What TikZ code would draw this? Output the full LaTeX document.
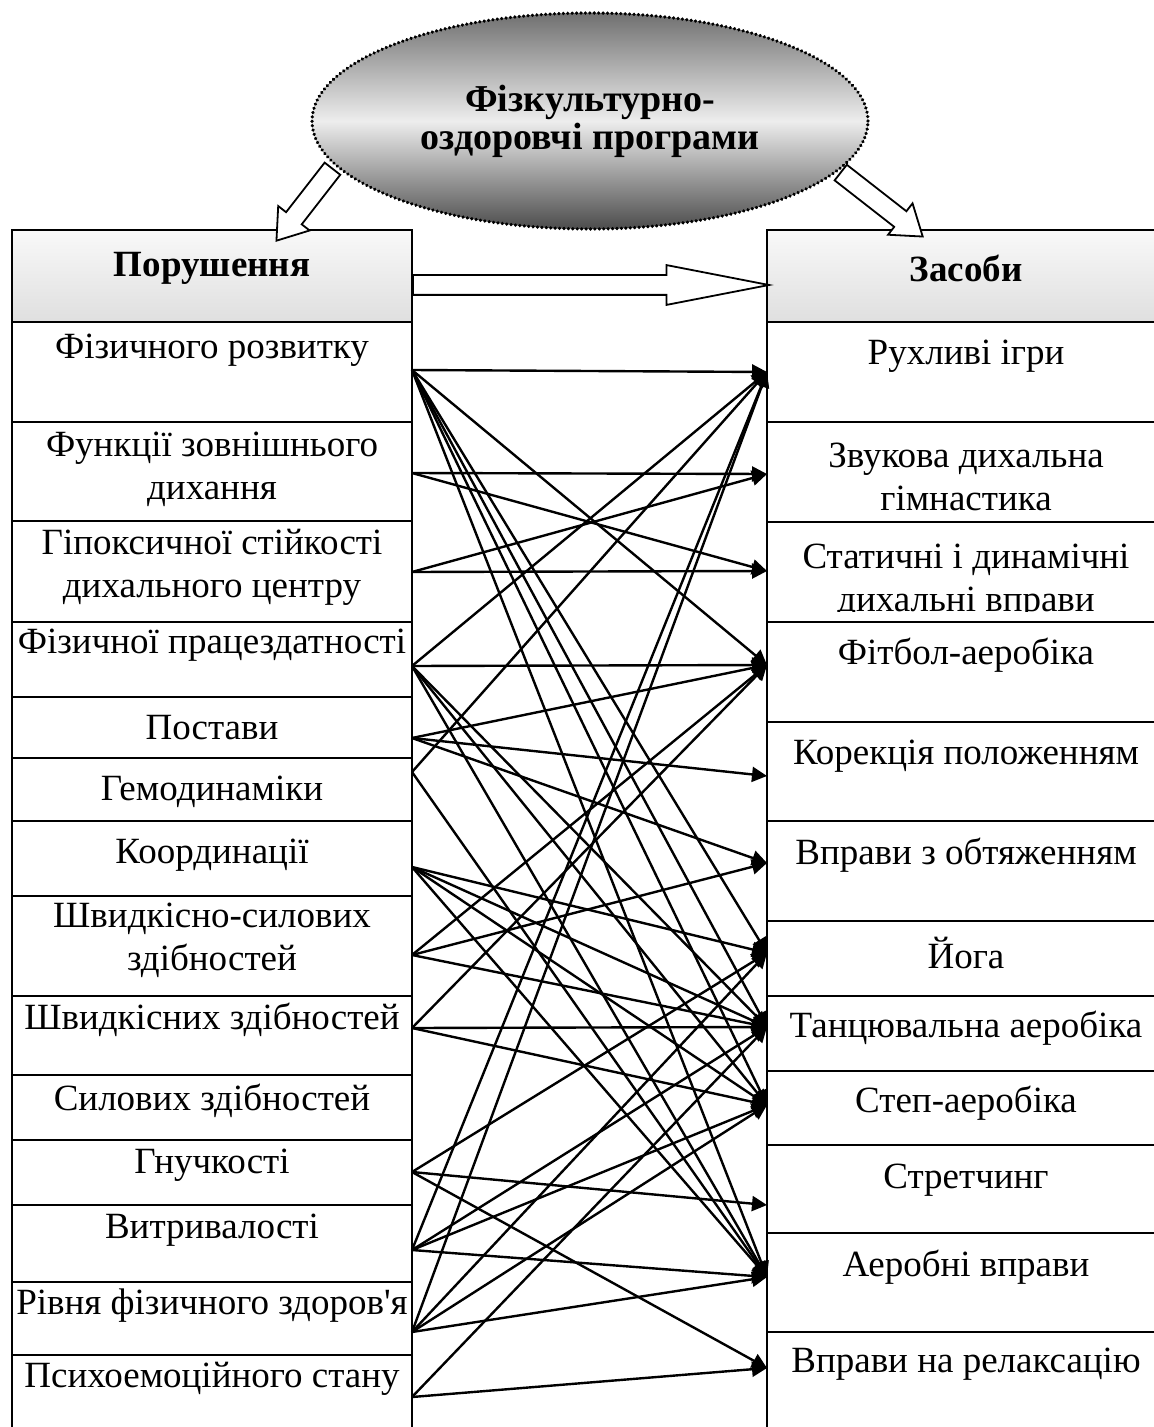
\documentclass[tikz,border=0pt]{standalone}
\usepackage{fontspec}
\setmainfont{Liberation Serif}
\usetikzlibrary{arrows.meta,shapes.geometric,shapes.arrows,calc}

% hollow block arrow from #1 to #2
\newcommand{\hollowarrow}[3]{%
  \path let \p1=($(#2)-(#1)$), \n1={veclen(\x1,\y1)}, \n2={atan2(\y1,\x1)} in
    node[fatarrow, #3, minimum height=\n1, rotate=\n2, anchor=tail] at (#1) {};}

\begin{document}
\begin{tikzpicture}[x=0.5pt,y=-0.5pt,
    txt/.style={font=\fontsize{18.5}{21.5}\selectfont, align=center, inner sep=0pt},
    head/.style={font=\fontsize{18.5}{21.5}\selectfont\bfseries, inner sep=0pt},
    hdrbox/.style={draw, line width=1pt, top color=gray!5, bottom color=gray!25},
    cell/.style={draw, line width=1pt},
    link/.style={line width=1.2pt, -{Triangle[length=7.5pt,width=7.5pt]}},
    fatarrow/.style={single arrow, draw, fill=white, line width=0.9pt,
                     inner xsep=0pt, inner ysep=4.5pt, single arrow head extend=5pt},
    oval/.style={ellipse, minimum width=278pt, minimum height=108pt,
                 top color=black!56, bottom color=black!70, middle color=black!7,
                 draw, line width=1.8pt, dash pattern=on 0.01pt off 2.2pt, line cap=round,
                 align=center, font=\fontsize{19}{19}\selectfont\bfseries}]

  \useasboundingbox (0,0) rectangle (1154,1427);
  \clip (0,0) rectangle (1154,1427);

  % headers
  \draw[hdrbox] (12,230) rectangle (412,322);
  \draw[hdrbox] (767,230) rectangle (1166,322);
  \node[head] (lh) at (212,268) {Порушення};
  \node[head] (rh) at (966,268) {Засоби};

  % left column
  \foreach \ya/\yb/\yt/\yc/\txt [count=\i] in {
      322/422/350/370/{Фізичного розвитку},
      422/521/469/473/{Функції зовнішнього\\дихання},
      521/622/567/572/{Гіпоксичної стійкості\\дихального центру},
      622/697/645/666/{Фізичної працездатності},
      697/758/728/738/{Постави},
      758/821/792/772/{Гемодинаміки},
      821/896/855/867/{Координації},
      896/996/940/955/{Швидкісно-силових\\здібностей},
      996/1075/1020/1028/{Швидкісних здібностей},
      1075/1140/1101/1105/{Силових здібностей},
      1140/1205/1165/1172/{Гнучкості},
      1205/1282/1230/1250/{Витривалості},
      1282/1355/1306/1332/{Рівня фізичного здоров\textquotesingle я},
      1355/1440/1379/1397/{Психоемоційного стану}}
  {
    \draw[cell] (12,\ya) rectangle (412,\yb);
    \node[txt] (l\i) at (212,\yt) {\txt};
    \coordinate (p\i) at (412,\yc);
  }

  % right column
  \foreach \ya/\yb/\yt/\yc/\txt [count=\i] in {
      322/422/356/372/{Рухливі ігри},
      422/522/477/474/{Звукова дихальна\\гімнастика},
      522/622/577/571/{},
      622/722/655/665/{Фітбол-аеробіка},
      722/821/756/776/{Корекція положенням},
      821/921/855/863/{Вправи з обтяженням},
      921/996/953/953/{Йога},
      996/1071/1028/1027/{Танцювальна аеробіка},
      1071/1145/1103/1105/{Степ-аеробіка},
      1145/1233/1180/1205/{Стретчинг},
      1233/1332/1267/1277/{Аеробні вправи},
      1332/1440/1364/1368/{Вправи на релаксацію}}
  {
    \draw[cell] (767,\ya) rectangle (1166,\yb);
    \node[txt] (r\i) at (966,\yt) {\txt};
    \coordinate (z\i) at (767,\yc);
  }
  \begin{scope}
    \clip (767,522) rectangle (1166,611);
    \node[txt] (r3) at (966,582) {Статичні і динамічні\\дихальні вправи};
  \end{scope}

  % links
  \foreach \a/\b in {1/1,1/4,1/7,1/8,1/9,1/11,
                     2/2,2/3, 3/3,3/2,
                     4/4,4/1,4/8,4/9,4/11,
                     5/4,5/5,5/6, 6/1,6/11,
                     7/7,7/8,7/9,7/11,
                     8/4,8/6,8/8, 9/8,9/4,9/9,
                     11/7,11/10,11/12,
                     12/1,12/8,12/9,12/11,
                     13/1,13/7,13/9,13/11,
                     14/8,14/12}
    \draw[link] (p\a) -- (z\b);

  % block arrows
  \coordinate (ha0) at (412,285);
  \coordinate (ha1) at (768,285);
  \coordinate (la0) at (333,168);
  \coordinate (la1) at (277,240);
  \coordinate (ra0) at (840,172);
  \coordinate (ra1) at (922,236);
  \hollowarrow{ha0}{ha1}{single arrow tip angle=22}
  \hollowarrow{la0}{la1}{single arrow tip angle=70}
  \hollowarrow{ra0}{ra1}{single arrow tip angle=70}

  \node[oval] (prog) at (590,121) {Фізкультурно-\\оздоровчі програми};
\end{tikzpicture}
\end{document}
